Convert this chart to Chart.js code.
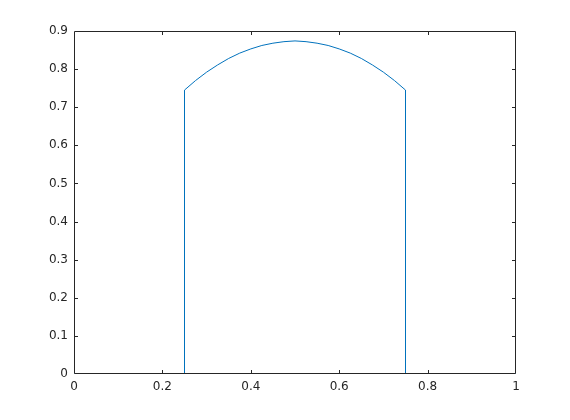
<!DOCTYPE html>
<html>
<head>
<meta charset="utf-8">
<script src="https://cdn.jsdelivr.net/npm/chart.js@4/dist/chart.umd.min.js"></script>
<style>
  html, body { margin: 0; padding: 0; background: #fff; }
  #wrap { width: 570px; height: 420px; }
</style>
</head>
<body>
<div id="wrap"><canvas id="c" width="570" height="420"></canvas></div>
<script>
// values
const xs = [0, 0.25, 0.25, 0.275, 0.3, 0.325, 0.35, 0.375, 0.4, 0.425, 0.45, 0.475, 0.5,
            0.525, 0.55, 0.575, 0.6, 0.625, 0.65, 0.675, 0.7, 0.725, 0.75, 0.75, 1];
const ys = [0, 0, 0.745, 0.770, 0.792, 0.811, 0.828, 0.842, 0.853, 0.862, 0.868, 0.872, 0.874,
            0.872, 0.868, 0.862, 0.853, 0.842, 0.828, 0.811, 0.792, 0.770, 0.745, 0, 0];
const xTicks = [0, 0.2, 0.4, 0.6, 0.8, 1];
const yTicks = [0, 0.1, 0.2, 0.3, 0.4, 0.5, 0.6, 0.7, 0.8, 0.9];

const axisColor = '#262626';

// matlab style box with inward ticks
const boxPlugin = {
  id: 'box',
  afterDraw(chart) {
    const { ctx, chartArea: a, scales } = chart;
    ctx.save();
    ctx.strokeStyle = axisColor;
    ctx.lineWidth = 1;
    ctx.beginPath();
    ctx.moveTo(a.left + 0.5, a.top + 0.5);
    ctx.lineTo(a.right - 0.5, a.top + 0.5);
    ctx.lineTo(a.right - 0.5, a.bottom - 0.5);
    ctx.lineTo(a.left + 0.5, a.bottom - 0.5);
    ctx.closePath();
    xTicks.forEach(v => {
      const px = Math.round(scales.x.getPixelForValue(v)) + 0.5;
      if (v === 0 || v === 1) return;
      ctx.moveTo(px, a.bottom); ctx.lineTo(px, a.bottom - 4);
      ctx.moveTo(px, a.top); ctx.lineTo(px, a.top + 4);
    });
    yTicks.forEach(v => {
      const py = Math.round(scales.y.getPixelForValue(v)) + 0.5;
      if (v === 0 || v === 0.9) return;
      ctx.moveTo(a.left, py); ctx.lineTo(a.left + 4, py);
      ctx.moveTo(a.right, py); ctx.lineTo(a.right - 4, py);
    });
    ctx.stroke();
    ctx.restore();
  }
};

new Chart(document.getElementById('c'), {
  type: 'scatter',
  data: {
    datasets: [{
      data: xs.map((x, i) => ({ x: x, y: ys[i] })),
      showLine: true,
      borderColor: '#0072BD',
      borderWidth: 1,
      pointRadius: 0,
      tension: 0
    }]
  },
  options: {
    responsive: false,
    animation: false,
    layout: { padding: { top: 31, right: 54, left: 0, bottom: 0 } },
    plugins: { legend: { display: false }, tooltip: { enabled: false } },
    scales: {
      x: {
        type: 'linear', min: 0, max: 1,
        grid: { display: false, drawTicks: false },
        border: { display: false },
        afterBuildTicks: s => { s.ticks = xTicks.map(v => ({ value: v })); },
        afterFit: s => { s.height = 46; },
        ticks: {
          padding: 6, color: axisColor, maxRotation: 0,
          font: { family: 'DejaVu Sans', size: 12 },
          callback: v => String(v)
        }
      },
      y: {
        type: 'linear', min: 0, max: 0.9,
        grid: { display: false, drawTicks: false },
        border: { display: false },
        afterBuildTicks: s => { s.ticks = yTicks.map(v => ({ value: v })); },
        afterFit: s => { s.width = 74; },
        ticks: {
          padding: 6, color: axisColor,
          font: { family: 'DejaVu Sans', size: 12 },
          callback: v => String(v)
        }
      }
    }
  },
  plugins: [boxPlugin]
});
</script>
</body>
</html>
